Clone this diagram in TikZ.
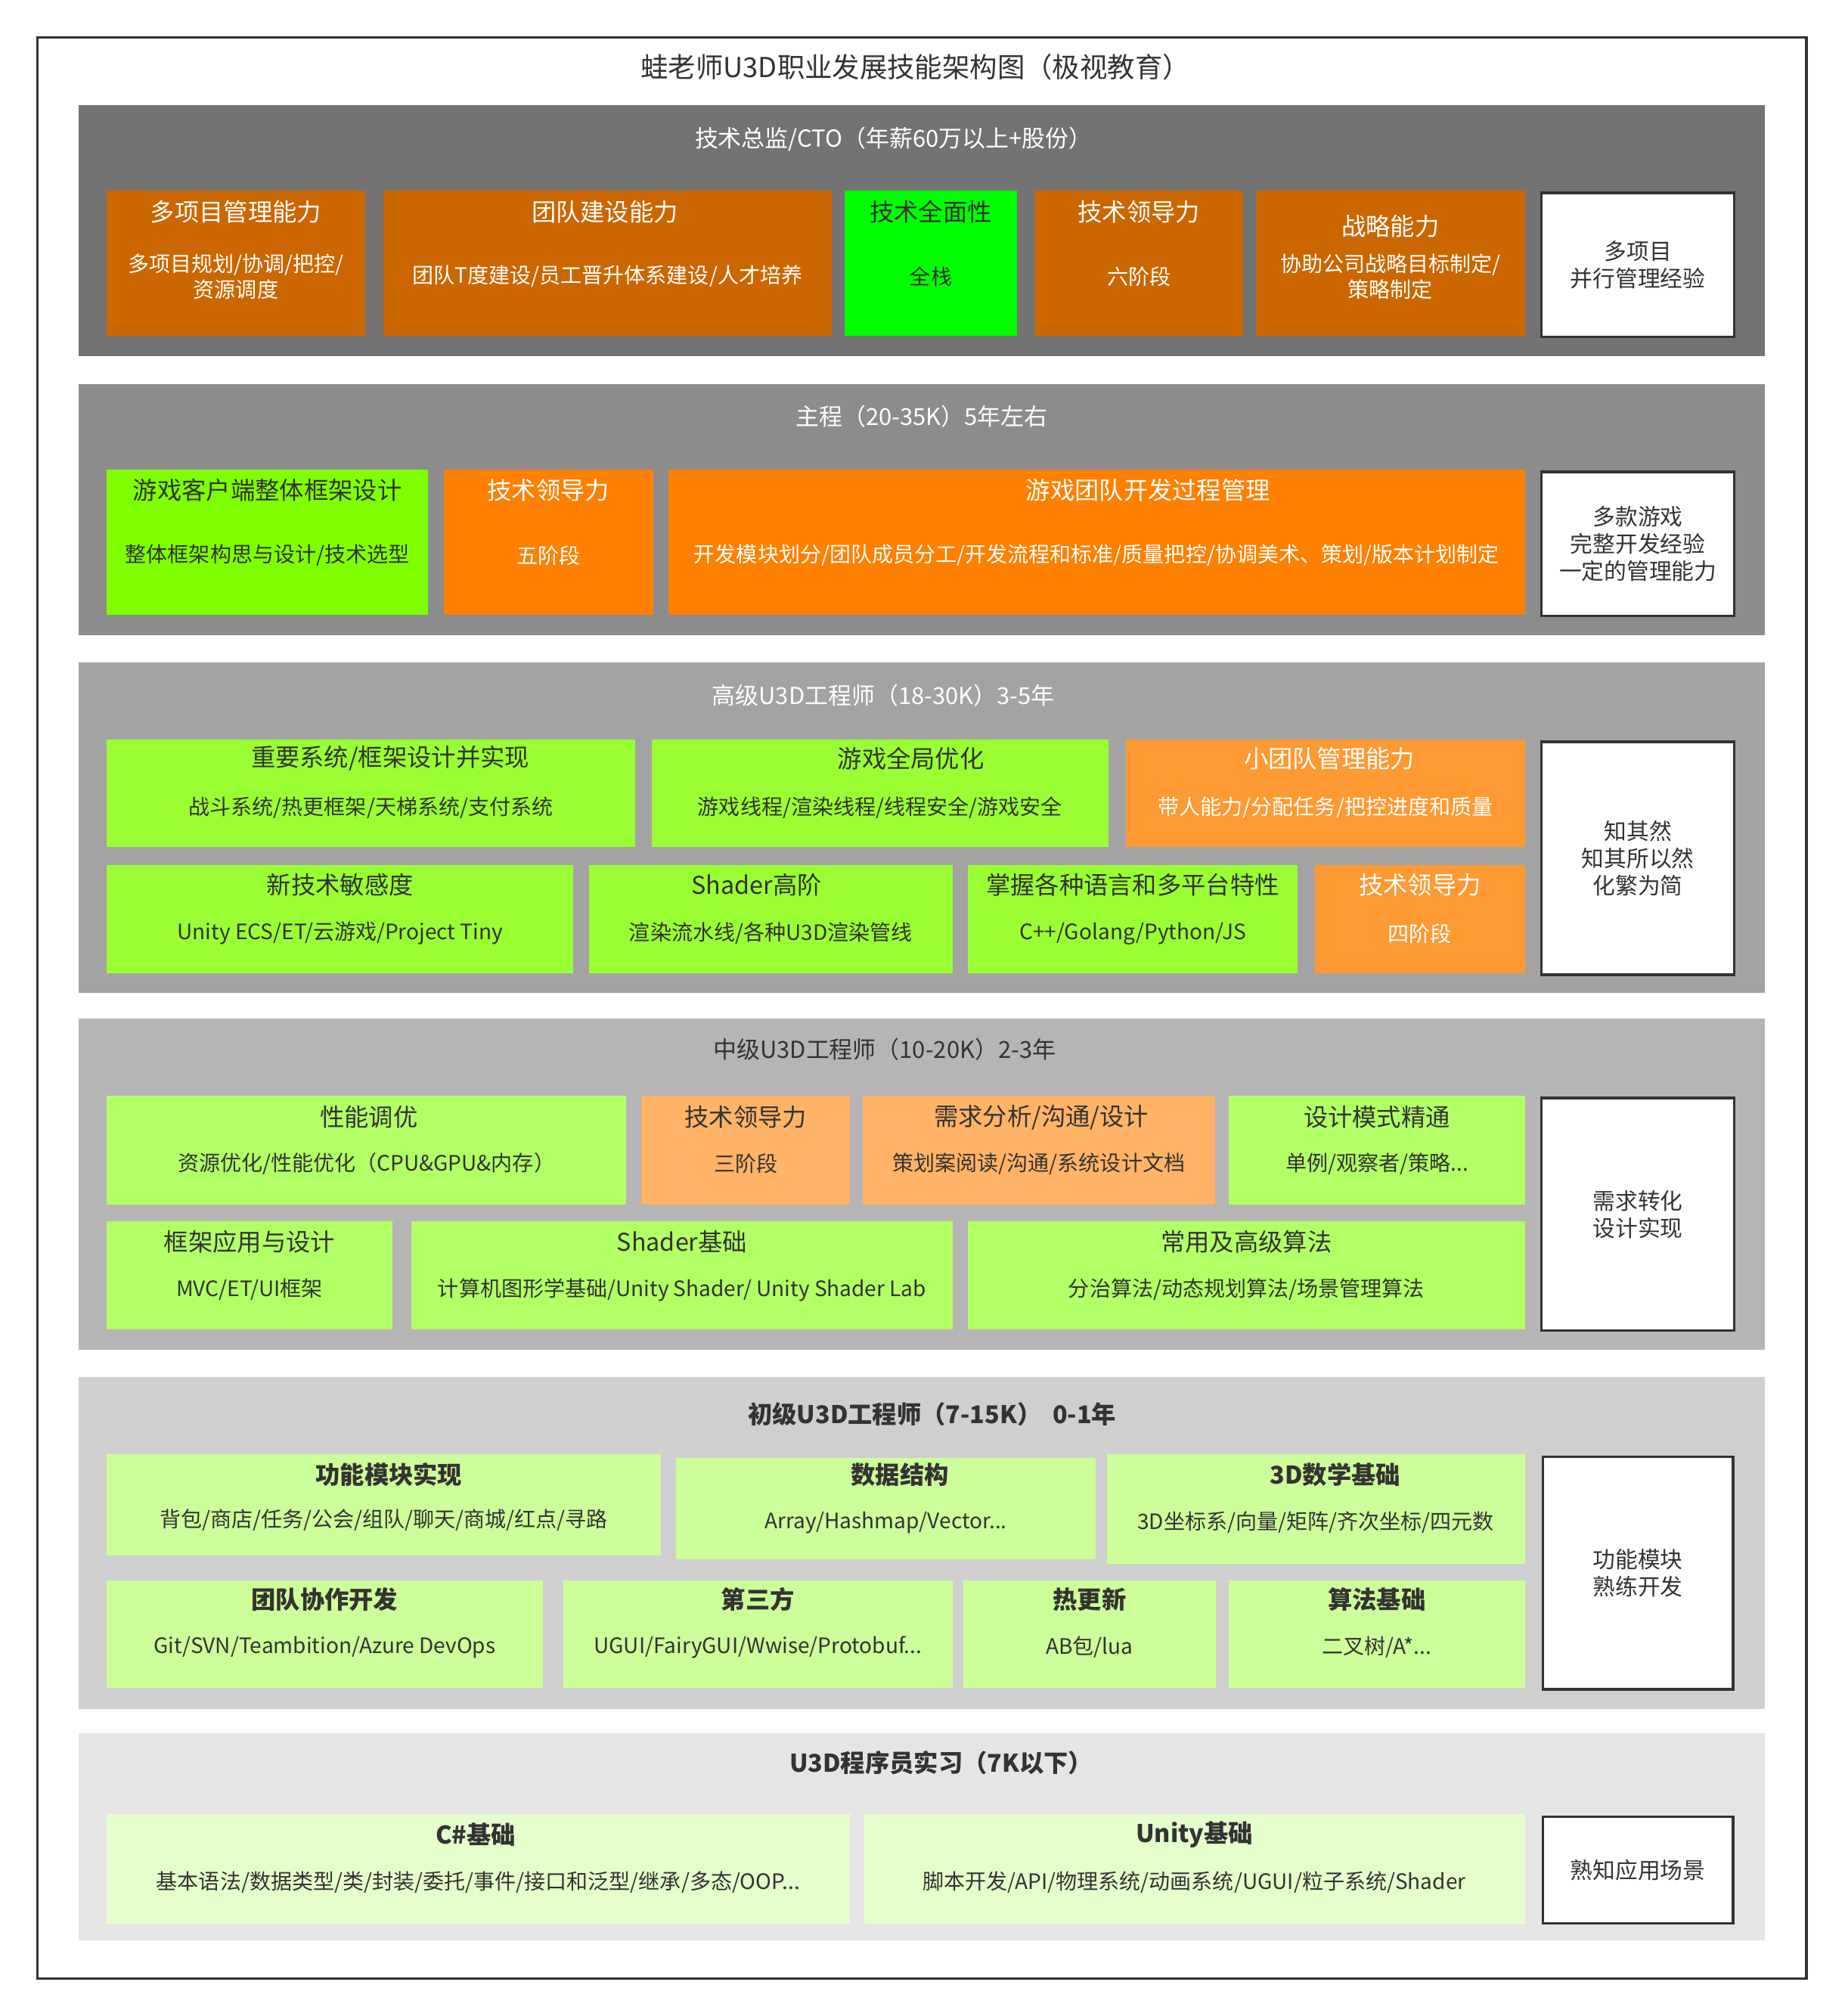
\documentclass[tikz,border=0pt]{standalone}
\usepackage{fontspec}
\setmainfont{Noto Sans CJK SC}
\usetikzlibrary{calc}

\definecolor{ink}{HTML}{333333}
\definecolor{ctogray}{HTML}{737373}
\definecolor{leadgray}{HTML}{8C8C8C}
\definecolor{seniorgray}{HTML}{A3A3A3}
\definecolor{midgray}{HTML}{B5B5B5}
\definecolor{juniorgray}{HTML}{CFCFCF}
\definecolor{interngray}{HTML}{E5E5E5}
\definecolor{rust}{HTML}{CC6600}
\definecolor{neon}{HTML}{00FF00}
\definecolor{chartreuse}{HTML}{80FF00}
\definecolor{tangerine}{HTML}{FF8000}
\definecolor{seniorgreen}{HTML}{99FF33}
\definecolor{seniororange}{HTML}{FF9933}
\definecolor{midgreen}{HTML}{B3FF66}
\definecolor{midorange}{HTML}{FFB366}
\definecolor{juniorgreen}{HTML}{CCFF99}
\definecolor{interngreen}{HTML}{E5FFCC}

\tikzset{
  maintitle/.style={text=ink, font=\fontsize{21.4}{25}\selectfont},
  bandtitle/.style={font=\fontsize{18.2}{22}\selectfont},
  boldband/.style={font=\fontsize{19}{23}\selectfont\bfseries},
  skillbox/.style={anchor=north west, inner sep=0pt, outer sep=0pt},
  skilltitle/.style={font=\fontsize{19}{23}\selectfont},
  skillsub/.style={align=center, font=\fontsize{16.5}{20}\selectfont},
  notebox/.style={draw=ink, line width=2pt, fill=white, text=ink, anchor=north west,
    align=center, inner sep=0pt, font=\fontsize{17.5}{21}\selectfont},
}

% row geometry, changed before each row
\def\rowtop{148}
\def\rowbot{261}
\def\titledy{17}
\def\subdy{68}

% [title shift], name, fill, ink, x1, x2, title, sub
\newcommand{\skill}[8][0]{%
  \node[skillbox, fill=#3, minimum width={(#6-#5)*1pt}, minimum height={(\rowbot-\rowtop)*1pt}] (#2) at (#5,\rowtop) {};
  \node[skilltitle, text=#4] (#2-title) at ($(#2.north)+(#1,\titledy)$) {#7};
  \node[skillsub, text=#4] (#2-sub) at ($(#2.north)+(0,\subdy)$) {#8};
}

\begin{document}
\begin{tikzpicture}[x=1pt,y=-1pt]
	\useasboundingbox (0,0) rectangle (1435,1568);
	\draw[ink, line width=2pt] (29,29) rectangle (1405,1539);
	\node[maintitle] (title) at (712,52) {蛙老师U3D职业发展技能架构图（极视教育）};

	% CTO
	\fill[ctogray] (61,82) rectangle (1373,277);
	\node[bandtitle, text=white] (cto) at (695,108) {技术总监/CTO（年薪60万以上+股份）};
	\def\rowtop{148}\def\rowbot{261}\def\titledy{17}\def\subdy{67}
	\skill{cto1}{rust}{white}{83}{284}{多项目管理能力}{多项目规划/协调/把控/\\资源调度}
	\skill[-2]{cto2}{rust}{white}{298}{647}{团队建设能力}{团队T度建设/员工晋升体系建设/人才培养}
	\skill{cto3}{neon}{ink}{657}{791}{技术全面性}{全栈}
	\skill{cto4}{rust}{white}{805}{967}{技术领导力}{六阶段}
	\def\titledy{28}
	\skill{cto5}{rust}{white}{977}{1186}{战略能力}{协助公司战略目标制定/\\策略制定}
	\node[notebox, minimum width=150pt, minimum height=112pt] (cto-note) at (1198,149) {多项目\\并行管理经验};

	% lead programmer
	\fill[leadgray] (61,299) rectangle (1373,494);
	\node[bandtitle, text=white] (lead) at (717,324) {主程（20-35K）5年左右};
	\def\rowtop{365}\def\rowbot{478}\def\titledy{16}\def\subdy{67}
	\skill{lead1}{chartreuse}{ink}{83}{333}{游戏客户端整体框架设计}{整体框架构思与设计/技术选型}
	\skill{lead2}{tangerine}{white}{345}{508}{技术领导力}{五阶段}
	\skill[40]{lead3}{tangerine}{white}{520}{1186}{游戏团队开发过程管理}{开发模块划分/团队成员分工/开发流程和标准/质量把控/协调美术、策划/版本计划制定}
	\node[notebox, minimum width=150pt, minimum height=112pt] (lead-note) at (1198,366) {多款游戏\\完整开发经验\\一定的管理能力};

	% senior
	\fill[seniorgray] (61,515) rectangle (1373,772);
	\node[bandtitle, text=white] (senior) at (687,541) {高级U3D工程师（18-30K）3-5年};
	\def\rowtop{575}\def\rowbot{659}\def\titledy{15}\def\subdy{53}
	\skill[15]{senior1}{seniorgreen}{ink}{83}{494}{重要系统/框架设计并实现}{战斗系统/热更框架/天梯系统/支付系统}
	\skill[24]{senior2}{seniorgreen}{ink}{507}{862}{游戏全局优化}{游戏线程/渲染线程/线程安全/游戏安全}
	\skill[3]{senior3}{seniororange}{white}{876}{1186}{小团队管理能力}{带人能力/分配任务/把控进度和质量}
	\def\rowtop{673}\def\rowbot{757}
	\skill{senior4}{seniorgreen}{ink}{83}{446}{新技术敏感度}{Unity ECS/ET/云游戏/Project Tiny}
	\skill[-11]{senior5}{seniorgreen}{ink}{458}{741}{Shader高阶}{渲染流水线/各种U3D渲染管线}
	\skill{senior6}{seniorgreen}{ink}{753}{1009}{掌握各种语言和多平台特性}{C++/Golang/Python/JS}
	\skill{senior7}{seniororange}{white}{1023}{1186}{技术领导力}{四阶段}
	\node[notebox, minimum width=150pt, minimum height=181pt] (senior-note) at (1198,576) {知其然\\知其所以然\\化繁为简};

	% intermediate
	\fill[midgray] (61,792) rectangle (1373,1050);
	\node[bandtitle, text=ink] (mid) at (688,816) {中级U3D工程师（10-20K）2-3年};
	\def\rowtop{852}\def\rowbot{937}\def\titledy{17}\def\subdy{53}
	\skill[2]{mid1}{midgreen}{ink}{83}{487}{性能调优}{资源优化/性能优化（CPU\&GPU\&内存）}
	\skill{mid2}{midorange}{ink}{499}{661}{技术领导力}{三阶段}
	\skill[2]{mid3}{midorange}{ink}{671}{945}{需求分析/沟通/设计}{策划案阅读/沟通/系统设计文档}
	\skill{mid4}{midgreen}{ink}{956}{1186}{设计模式精通}{单例/观察者/策略...}
	\def\rowtop{950}\def\rowbot{1034}\def\titledy{16}
	\skill{mid5}{midgreen}{ink}{83}{305}{框架应用与设计}{MVC/ET/UI框架}
	\skill{mid6}{midgreen}{ink}{320}{741}{Shader基础}{计算机图形学基础/Unity Shader/ Unity Shader Lab}
	\skill{mid7}{midgreen}{ink}{753}{1186}{常用及高级算法}{分治算法/动态规划算法/场景管理算法}
	\node[notebox, minimum width=150pt, minimum height=181pt] (mid-note) at (1198,853) {需求转化\\设计实现};

	% junior
	\fill[juniorgray] (61,1071) rectangle (1373,1329);
	\node[boldband, text=ink] (junior) at (725,1100) {初级U3D工程师（7-15K）\ \ 0-1年};
	\def\rowtop{1131}\def\rowbot{1210}\def\titledy{16}\def\subdy{51}
	\skill[4]{junior1}{juniorgreen}{ink}{83}{514}{\bfseries 功能模块实现}{背包/商店/任务/公会/组队/聊天/商城/红点/寻路}
	\def\rowtop{1134}\def\rowbot{1213}\def\titledy{13}\def\subdy{50}
	\skill[11]{junior2}{juniorgreen}{ink}{526}{852}{\bfseries 数据结构}{Array/Hashmap/Vector...}
	\def\rowtop{1131}\def\rowbot{1216}\def\titledy{16}\def\subdy{53}
	\skill[15]{junior3}{juniorgreen}{ink}{861}{1186}{\bfseries 3D数学基础}{3D坐标系/向量/矩阵/齐次坐标/四元数}
	\def\rowtop{1229}\def\rowbot{1313}\def\titledy{15}\def\subdy{52}
	\skill{junior4}{juniorgreen}{ink}{83}{422}{\bfseries 团队协作开发}{Git/SVN/Teambition/Azure DevOps}
	\skill{junior5}{juniorgreen}{ink}{438}{741}{\bfseries 第三方}{UGUI/FairyGUI/Wwise/Protobuf...}
	\skill{junior6}{juniorgreen}{ink}{749}{946}{\bfseries 热更新}{AB包/lua}
	\skill{junior7}{juniorgreen}{ink}{956}{1186}{\bfseries 算法基础}{二叉树/A*...}
	\node[notebox, minimum width=148pt, minimum height=181pt] (junior-note) at (1199,1132) {功能模块\\熟练开发};

	% intern
	\fill[interngray] (61,1348) rectangle (1373,1509);
	\node[boldband, text=ink] (intern) at (732,1371) {U3D程序员实习（7K以下）};
	\def\rowtop{1411}\def\rowbot{1496}\def\titledy{16}\def\subdy{53}
	\skill[-2]{intern1}{interngreen}{ink}{83}{661}{\bfseries C\#基础}{基本语法/数据类型/类/封装/委托/事件/接口和泛型/继承/多态/OOP...}
	\skill{intern2}{interngreen}{ink}{672}{1186}{\bfseries Unity基础}{脚本开发/API/物理系统/动画系统/UGUI/粒子系统/Shader}
	\node[notebox, minimum width=148pt, minimum height=83pt] (intern-note) at (1199,1412) {熟知应用场景};

\end{tikzpicture}
\end{document}
